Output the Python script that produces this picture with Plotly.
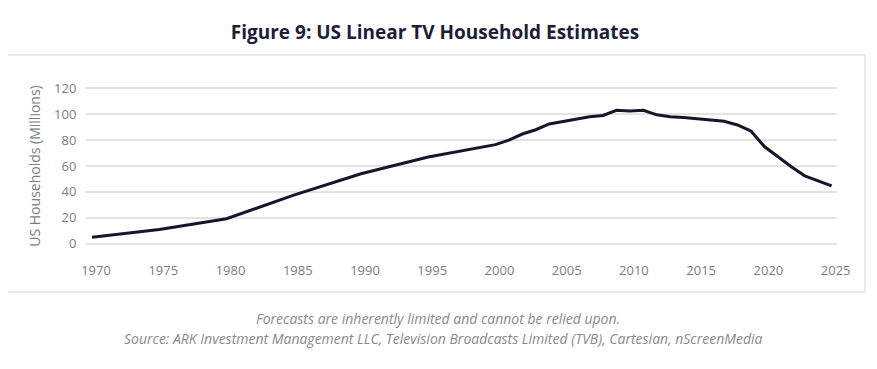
import plotly.graph_objects as go

years = [1970, 1975, 1980, 1985, 1990, 1995, 2000, 2001, 2002, 2003, 2004, 2005, 2006,
         2007, 2008, 2009, 2010, 2011, 2012, 2013, 2014, 2015, 2016, 2017, 2018,
         2019, 2020, 2021, 2022, 2023, 2024, 2025]
households = [5.0, 11.0, 19.3, 37.5, 54.0, 67.0, 76.5, 80.0, 84.7, 88.0, 92.5, 94.5, 96.0,
              98.0, 99.0, 103.0, 102.5, 103.0, 99.5, 98.0, 97.4, 96.6, 95.6, 94.6, 91.7,
              87.0, 75.0, 67.0, 59.4, 52.4, 48.3, 44.7]
x_ticks = [1970, 1975, 1980, 1985, 1990, 1995, 2000, 2005, 2010, 2015, 2020, 2025]
y_ticks = [0, 20, 40, 60, 80, 100, 120]

FONT = "'Open Sans', Lato, sans-serif"
GRAY = "#7d7d7d"
OFF = 8  # default page body margin

fig = go.Figure()
fig.add_trace(go.Scatter(x=years, y=households, mode="lines",
                         line=dict(color="#16162b", width=3), hoverinfo="x+y"))

H = 369 - OFF
fig.update_layout(
    width=877 - OFF, height=H,
    margin=dict(l=78, r=40, t=79, b=124),
    paper_bgcolor="white", plot_bgcolor="white",
    showlegend=False,
    font=dict(family=FONT, color=GRAY, size=13),
    title=dict(text="<b>Figure 9: US Linear TV Household Estimates</b>",
               x=(435 - OFF) / (877 - OFF), xanchor="center",
               y=1 - (32 - OFF) / H, yanchor="middle",
               font=dict(family=FONT, size=19, color="#1d1d38")),
    xaxis=dict(range=[1969.55, 2025.4], tickvals=x_ticks, showgrid=False,
               zeroline=False, showline=False, ticks="outside", ticklen=13,
               tickcolor="rgba(0,0,0,0)", ticklabelshift=4,
               tickfont=dict(size=13, color=GRAY)),
    yaxis=dict(range=[-1, 121], tickvals=y_ticks, showgrid=True,
               gridcolor="#e3e3e3", gridwidth=1.5, zeroline=False, showline=False,
               ticks="outside", ticklen=6, tickcolor="rgba(0,0,0,0)",
               tickfont=dict(size=13, color=GRAY),
               title=dict(text="US Households (Millions)", standoff=10,
                          font=dict(size=14, color=GRAY))),
    shapes=[dict(type="rect", xref="paper", yref="paper",
                 x0=-81 / 751, x1=779 / 751, y0=(245 - 292) / 158, y1=(245 - 55) / 158,
                 line=dict(color="#e4e4e4", width=1.5), fillcolor="rgba(0,0,0,0)",
                 layer="below")],
    annotations=[
        dict(text="<i>Forecasts are inherently limited and cannot be relied upon.</i>",
             xref="paper", yref="paper", x=(438 - 86) / 751, xanchor="center",
             y=(245 - 318) / 158, yanchor="middle", showarrow=False,
             font=dict(size=14, color="#8a8a8a")),
        dict(text="<i>Source: ARK Investment Management LLC, Television Broadcasts Limited (TVB), Cartesian, nScreenMedia</i>",
             xref="paper", yref="paper", x=(443 - 86) / 751, xanchor="center",
             y=(245 - 338) / 158, yanchor="middle", showarrow=False,
             font=dict(size=14, color="#8a8a8a")),
    ],
)

fig.write_html("out.html")
